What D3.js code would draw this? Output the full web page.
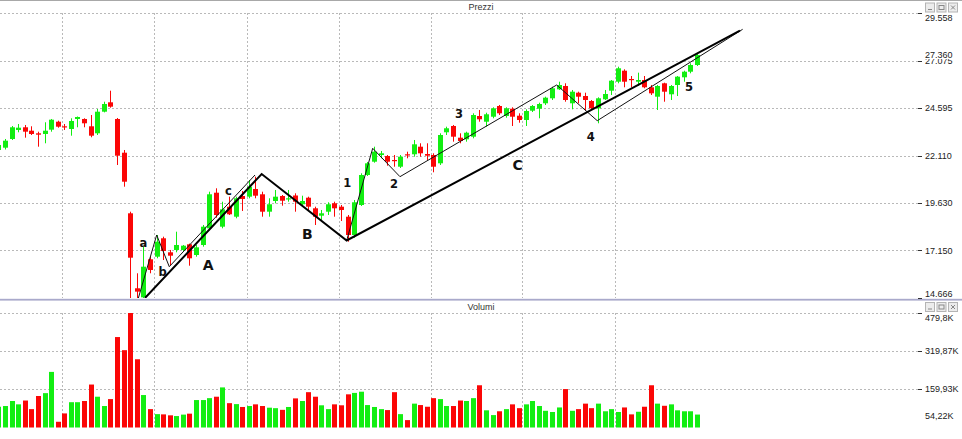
<!DOCTYPE html>
<html>
<head>
<meta charset="utf-8">
<script src="https://cdn.jsdelivr.net/npm/d3@7"></script>
<style>
  html, body { margin: 0; padding: 0; background: #fff; overflow: hidden; }
  svg { display: block; }
</style>
</head>
<body>
<svg id="chart" width="962" height="439"></svg>
<script>
// Daily OHLC prices (one entry per session) and volumes in thousands
const openPrices = [22400,22520,22975,23445,23586,23408,23272,23236,23461,23878,23638,23497,24020,24020,23638,23272,24401,24892,24020,22258,
  19092,15174,14700,16689,16825,17786,17054,17175,17175,17472,16913,17436,18308,20168,18392,19437,18914,19996,19960,20362,
  20085,19176,19735,19996,19824,20022,19563,19907,19353,18967,19176,19615,19437,18914,17958,19526,21093,21788,22138,22086,
  21877,21527,22175,22175,22572,22190,22138,21704,23325,23654,23043,22958,23095,24176,23878,24139,24699,24176,24557,24191,
  23967,24453,24558,24840,25101,25571,25744,24840,25394,25221,24960,24578,25049,25498,25968,26543,26110,25968,26057,25676,
  25185,25885,25310,25796,26198,26491,26841];
const highPrices = [22765,22975,23654,23758,23706,23638,23356,23847,24020,23931,23758,24056,24150,24056,24228,24542,24923,25498,24072,22400,
  19176,15957,17348,16825,17958,17870,17175,18131,17436,17508,17436,18481,20221,20398,19698,19960,19960,20257,20832,21005,
  20221,19876,20310,20048,20310,20136,20012,19960,19437,19265,19667,19698,19526,19003,19787,21182,21773,22572,22348,22138,
  22138,22138,22311,22922,22750,22750,22227,23272,23617,23706,23272,23356,24317,24490,24348,24630,24751,24630,24630,24317,
  24526,24751,24871,25185,25707,25968,25885,25535,25446,25394,25012,25153,25535,26057,26753,26616,26266,26440,26266,25796,
  25796,25916,25796,26266,26543,26930,27452];
const lowPrices = [22295,22426,22922,23325,23043,23183,22572,22750,23356,23565,23445,23147,23586,23586,23064,23183,24366,24610,21616,20482,
  14500,14550,14550,15957,16741,16652,16391,17054,17123,16354,16825,17348,18220,18862,18308,19003,18831,19213,19876,19876,
  18914,18914,19615,19489,19698,19176,19437,19265,18481,18742,19003,18914,18690,17608,17817,19474,21041,21736,21966,21579,
  21527,21459,21966,22050,22050,21877,21235,21616,23183,22834,22750,22834,23010,23878,23617,24056,24228,24087,23654,23826,
  23654,24385,24056,24751,25012,25535,24923,24526,24840,24453,24490,23795,25012,25273,25885,25676,25676,25744,25624,25273,
  24490,24923,25012,25221,25968,26407,26789];
const closePrices = [22661,22886,23586,23565,23356,23236,23199,23408,23983,23617,23586,23915,24124,23795,23147,24401,24803,24662,22102,20743,
  16772,14998,16302,16130,17608,17123,16877,17436,17400,16741,17315,18392,20085,19003,19301,19040,19876,19840,20482,20012,
  19176,19563,19960,19750,19876,19698,19735,19437,18914,19092,19563,19353,19265,17958,19667,21093,21704,22311,22227,21788,
  21825,22050,22123,22697,22227,22102,21527,23183,23534,23095,22870,23303,24228,24004,24265,24578,24317,24578,24139,23967,
  24437,24699,24803,25133,25624,25796,25012,25446,25185,25012,24578,25101,25326,26021,26669,25968,26057,26057,25676,25361,
  25744,25446,25744,26231,26491,26841,27360];
const volumes = [87,90,111,97,113,77,132,144,233,24,59,106,106,111,180,129,90,119,379,324,
  479.8,286,136,77,56,55,51,48,54,58,115,115,123,129,168,102,98,86,90,97,
  90,83,81,74,86,122,111,148,129,93,77,97,93,139,145,150,94,86,77,73,
  148,56,31,100,94,87,123,119,90,90,113,111,123,177,72,52,68,77,97,81,
  97,111,90,70,65,84,161,70,77,100,81,100,68,77,65,84,55,66,87,177,
  100,91,97,72,68,68,54.22];

// Axis ticks
const priceTicks = [29558, 27075, 24595, 22110, 19630, 17150, 14666];
const priceTickLabels = ["29.558", "27.075", "24.595", "22.110", "19.630", "17.150", "14.666"];
const lastPriceLabel = "27.360";
const volumeTicks = [479.8, 319.87, 159.93];
const volumeTickLabels = ["479,8K", "319,87K", "159,93K"];
const lastVolumeLabel = "54,22K";
const sessionGrid = [9.65, 23.6, 37.7, 51.65, 65.6, 79.5, 93.5];

// Elliott wave trendlines: [session index, price]
const mainTrend = [[22.25, 14667], [39.95, 21146], [52.85, 17671], [112.53, 28638]];
const subWaveABC = [[21.23, 14651], [24.02, 17958], [25.93, 16302], [38.94, 21093]];
const subWave12345 = [[52.85, 17671], [56.8, 22489], [60.94, 21005], [84.72, 25796], [90.88, 23931], [112.94, 28706]];
const waveNames = ["a", "b", "c", "A", "B", "1", "2", "3", "C", "4", "5"];
const waveNameAt = [[22.0, 17525], [24.93, 16041], [34.9, 20273], [31.85, 16391], [46.87, 17995], [52.95, 20691],
  [60.03, 20607], [69.9, 24265], [78.8, 21616], [89.9, 23095], [104.8, 25707]];

const candles = openPrices.map((o, i) => ({
  i, o, h: highPrices[i], l: lowPrices[i], c: closePrices[i], v: volumes[i]
}));

const W = 962, H = 439;
const plotRight = 918;
const svg = d3.select("#chart");
const UP = "#12ee12", DOWN = "#fb0606";
const uiFont = "'Liberation Sans', Arial, sans-serif";

const x = d3.scaleLinear().domain([0, 106]).range([-1.6, 696.9]);
const yP = d3.scaleLinear().domain([14666, 29558]).range([298, 13]);
const yV = d3.scaleLinear().domain([0, 479.8]).range([427.5, 313]);

// frame
svg.append("rect").attr("x", 0).attr("y", 0).attr("width", W).attr("height", H).attr("fill", "#fff");
svg.append("line").attr("x1", 0).attr("x2", W).attr("y1", 0.5).attr("y2", 0.5).attr("stroke", "#a8a8a8");
svg.append("rect").attr("x", 0).attr("y", 298.8).attr("width", W).attr("height", 1.8).attr("fill", "#a9a9cb");

function panelTitle(text, y) {
  svg.append("text").attr("x", 481).attr("y", y).attr("text-anchor", "middle")
    .attr("font-family", uiFont).attr("font-size", 9).attr("fill", "#333").text(text);
}
panelTitle("Prezzi", 10);
panelTitle("Volumi", 309.5);

function windowButtons(y) {
  const g = svg.append("g").attr("transform", `translate(925.5,${y + 0.5})`);
  [0, 11.5, 23].forEach((dx, k) => {
    g.append("rect").attr("x", dx).attr("y", 0).attr("width", 9).attr("height", 9)
      .attr("fill", "#ececec").attr("stroke", "#b4b4b4").attr("stroke-width", 1);
    if (k === 0) g.append("line").attr("x1", dx + 2.5).attr("x2", dx + 6.5).attr("y1", 6.5).attr("y2", 6.5).attr("stroke", "#888");
    if (k === 1) g.append("rect").attr("x", dx + 2).attr("y", 2.5).attr("width", 5).attr("height", 4).attr("fill", "none").attr("stroke", "#888");
    if (k === 2) {
      g.append("line").attr("x1", dx + 2.5).attr("x2", dx + 6.5).attr("y1", 2.5).attr("y2", 6.5).attr("stroke", "#888");
      g.append("line").attr("x1", dx + 6.5).attr("x2", dx + 2.5).attr("y1", 2.5).attr("y2", 6.5).attr("stroke", "#888");
    }
  });
}
windowButtons(2.5);
windowButtons(302);

// grids
function grid(yTicks, yScale, top, bottom) {
  const g = svg.append("g").attr("stroke", "#b9b9b9").attr("stroke-dasharray", "2,2").attr("stroke-width", 1);
  yTicks.forEach(t => {
    const yy = Math.round(yScale(t)) + 0.5;
    g.append("line").attr("x1", 0).attr("x2", plotRight).attr("y1", yy).attr("y2", yy);
  });
  sessionGrid.forEach(s => {
    const xx = Math.round(x(s)) + 0.5;
    g.append("line").attr("x1", xx).attr("x2", xx).attr("y1", top).attr("y2", bottom);
  });
}
grid(priceTicks.slice(0, -1), yP, 13, 298);
grid(volumeTicks, yV, 313, 428);

// right axes
function rightAxis(ticks, labels, yScale, minY, maxY) {
  const g = svg.append("g").attr("font-family", uiFont).attr("font-size", 9).attr("fill", "#222");
  ticks.forEach((t, k) => {
    const yy = Math.round(yScale(t)) + 0.5;
    g.append("line").attr("x1", 918).attr("x2", 922).attr("y1", yy).attr("y2", yy).attr("stroke", "#333");
    const ly = Math.max(minY, Math.min(maxY, yScale(t)));
    g.append("text").attr("x", 925).attr("y", ly).attr("dy", "0.35em").text(labels[k]);
  });
  return g;
}
rightAxis(priceTicks, priceTickLabels, yP, 18, 294);
rightAxis(volumeTicks, volumeTickLabels, yV, 318, 420);

function valueTag(label, yy) {
  const g = svg.append("g").attr("font-family", uiFont).attr("font-size", 9).attr("fill", "#222");
  g.append("rect").attr("x", 924).attr("y", yy - 5).attr("width", 32).attr("height", 9).attr("fill", "#fff");
  g.append("text").attr("x", 925).attr("y", yy).attr("dy", "0.35em").text(label);
}
valueTag(lastPriceLabel, yP(closePrices[closePrices.length - 1]));
valueTag(lastVolumeLabel, Math.min(yV(volumes[volumes.length - 1]) + 1.5, 420));

// price panel
svg.append("clipPath").attr("id", "priceClip").append("rect")
  .attr("x", 0).attr("y", 12).attr("width", 918).attr("height", 286);
const price = svg.append("g").attr("clip-path", "url(#priceClip)");

const cg = price.selectAll("g.candle").data(candles).join("g").attr("class", "candle");
cg.append("line")
  .attr("x1", d => Math.round(x(d.i)) + 0.5).attr("x2", d => Math.round(x(d.i)) + 0.5)
  .attr("y1", d => yP(d.h)).attr("y2", d => yP(d.l))
  .attr("stroke", d => d.c >= d.o ? UP : DOWN).attr("stroke-width", 1);
cg.append("rect")
  .attr("x", d => Math.round(x(d.i)) - 2)
  .attr("width", 5)
  .attr("y", d => Math.min(yP(d.o), yP(d.c)))
  .attr("height", d => Math.max(1.2, Math.abs(yP(d.o) - yP(d.c))))
  .attr("fill", d => d.c >= d.o ? UP : DOWN);

const line = d3.line().x(p => x(p[0])).y(p => yP(p[1]));
price.append("path").attr("d", line(subWaveABC)).attr("fill", "none").attr("stroke", "#111").attr("stroke-width", 1);
price.append("path").attr("d", line(subWave12345)).attr("fill", "none").attr("stroke", "#111").attr("stroke-width", 1);
price.append("path").attr("d", line(mainTrend)).attr("fill", "none").attr("stroke", "#000").attr("stroke-width", 2);

price.selectAll("text.wave").data(waveNames).join("text").attr("class", "wave")
  .attr("x", (t, k) => x(waveNameAt[k][0]))
  .attr("y", (t, k) => yP(waveNameAt[k][1]))
  .attr("dy", "0.36em")
  .attr("text-anchor", "middle")
  .attr("font-family", "'DejaVu Sans', Verdana, sans-serif")
  .attr("font-weight", "bold")
  .attr("font-size", t => /[A-Z]/.test(t) ? 14 : 11.5)
  .attr("fill", "#111")
  .text(t => t);

// volume panel
svg.append("g").selectAll("rect").data(candles).join("rect")
  .attr("x", d => Math.round(x(d.i)) - 2)
  .attr("width", 5)
  .attr("y", d => yV(d.v))
  .attr("height", d => yV(0) - yV(d.v))
  .attr("fill", d => d.c >= d.o ? UP : DOWN);
</script>
</body>
</html>
